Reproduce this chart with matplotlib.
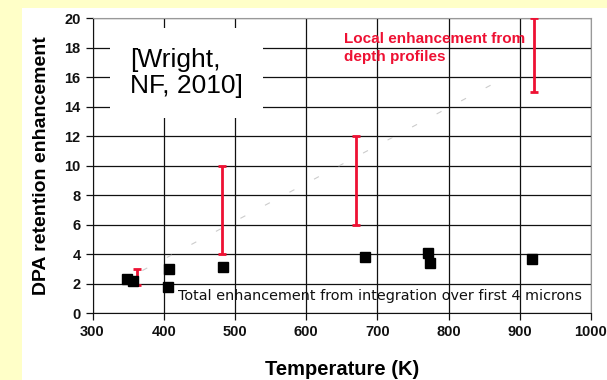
import matplotlib
matplotlib.use('Agg')
import matplotlib.pyplot as plt
from matplotlib.patches import Rectangle

# total enhancement (integration over first 4 microns)
temp_pts = [348, 357, 406, 408, 483, 683, 771, 774, 917]
enh_pts = [2.35, 2.2, 1.8, 3.0, 3.15, 3.85, 4.1, 3.4, 3.65]

# local enhancement ranges from depth profiles
temp_bars = [362, 482, 670, 920]
bar_low = [1.95, 4.05, 6.0, 15.0]
bar_high = [3.0, 10.0, 12.0, 20.0]

# faint trend line
trend_x = [370, 880]
trend_y = [2.9, 16.0]

xticks = [300, 400, 500, 600, 700, 800, 900, 1000]
yticks = list(range(0, 21, 2))

plt.rcParams['font.family'] = ['Liberation Sans', 'DejaVu Sans']

fig = plt.figure(figsize=(6.07, 3.80), dpi=100)
fig.patch.set_facecolor('#FFFFC8')
fig.patches.append(Rectangle((0.036, 0), 1, 0.979, transform=fig.transFigure,
                             facecolor='white', edgecolor='none', zorder=-1))

ax = fig.add_axes([0.1524, 0.1755, 0.8211, 0.7763])
ax.set_facecolor('white')
ax.set_xlim(300, 1000)
ax.set_ylim(0, 20)
ax.set_xticks(xticks)
ax.set_yticks(yticks)
ax.grid(True, color='#111111', linewidth=0.9)
ax.set_axisbelow(True)
for s in ['top', 'right']:
    ax.spines[s].set_color('#999999')
for s in ['left', 'bottom']:
    ax.spines[s].set_color('#111111')
ax.tick_params(direction='out', length=5, width=0.9, labelsize=10.5, colors='#111111')
for lab in ax.get_xticklabels() + ax.get_yticklabels():
    lab.set_fontweight('bold')

ax.plot(trend_x, trend_y, color='#cccccc', linewidth=0.8, linestyle=(0, (5, 20)), zorder=2)

ax.vlines(temp_bars, bar_low, bar_high, color='#EE1133', linewidth=2, zorder=3)
ax.hlines(bar_low + bar_high, [t - 5.5 for t in temp_bars] * 2, [t + 5.5 for t in temp_bars] * 2,
          color='#EE1133', linewidth=2, zorder=3)

ax.plot(temp_pts, enh_pts, 's', color='black', markersize=7, zorder=4)

ax.set_xlabel('Temperature (K)', fontsize=14.5, fontweight='bold', labelpad=15)
ax.set_ylabel('DPA retention enhancement', fontsize=14, fontweight='bold', labelpad=10)

ax.text(0.075, 0.815, '[Wright,\nNF, 2010]', transform=ax.transAxes, fontsize=19,
        va='center', ha='left', linespacing=1.1, zorder=5,
        bbox=dict(boxstyle='square,pad=0.75', facecolor='white', edgecolor='none'))

ax.text(0.505, 0.90, 'Local enhancement from\ndepth profiles', transform=ax.transAxes,
        fontsize=11, fontweight='bold', color='#EE1133', va='center', ha='left',
        linespacing=1.4, zorder=5)

ax.text(0.172, 0.06, 'Total enhancement from integration over first 4 microns',
        transform=ax.transAxes, fontsize=10.4, family='DejaVu Sans', color='#111111',
        va='center', ha='left', zorder=5)

fig.savefig('out.png', dpi=100, facecolor=fig.get_facecolor())
